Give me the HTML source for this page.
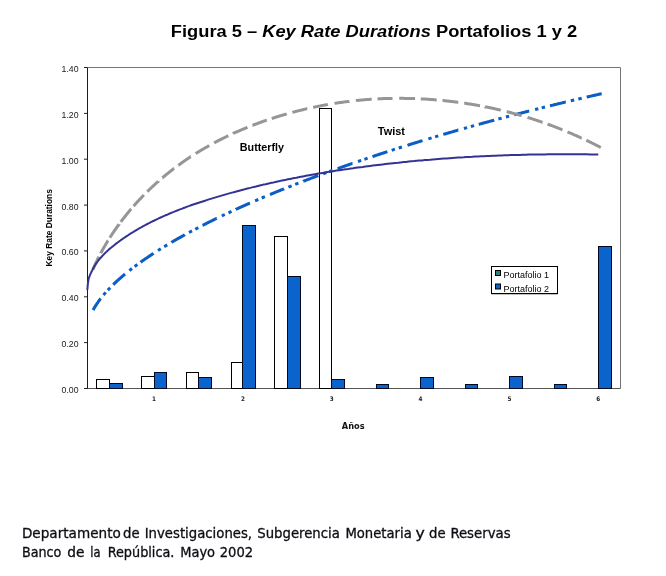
<!DOCTYPE html>
<html lang="es"><head><meta charset="utf-8"><title>Figura 5 – Key Rate Durations Portafolios 1 y 2</title>
<style>
html,body{margin:0;padding:0;background:#fff;}
body{width:666px;height:576px;overflow:hidden;position:relative;font-family:"Liberation Sans",Arial,sans-serif;}
svg{position:absolute;left:0;top:0;display:block;}
text{font-family:"Liberation Sans",Arial,sans-serif;fill:#000;}
.t{font-size:16px;font-weight:bold;}
.yl{font-size:9px;text-anchor:end;fill:#1a1a1a;}
.xl{font-family:"DejaVu Sans Condensed","DejaVu Sans",sans-serif;font-size:6.3px;font-weight:bold;text-anchor:middle;fill:#222;}
.ann{font-size:10.6px;font-weight:bold;}
.ax{font-size:8.4px;font-weight:bold;text-anchor:middle;}
.xt{font-family:"DejaVu Sans Condensed","DejaVu Sans",sans-serif;font-size:9px;font-weight:bold;fill:#111;}
.lg{font-size:9px;}
.ft{font-family:"DejaVu Sans Condensed","DejaVu Sans","Liberation Sans",sans-serif;font-size:14.7px;fill:#0d0d14;stroke:#0d0d14;stroke-width:0.3px;}
</style></head><body>
<svg width="666" height="576" viewBox="0 0 666 576">
<rect x="0" y="0" width="666" height="576" fill="#fff"/>
<text class="t" x="170.8" y="36.5" textLength="406.4" lengthAdjust="spacingAndGlyphs">Figura 5 – <tspan font-style="italic">Key Rate Durations</tspan> Portafolios 1 y 2</text>
<path d="M87.5,67.5 H620.5 V388.5" fill="none" stroke="#747474" stroke-width="1"/>
<path d="M84.5,388.5 H620.5" fill="none" stroke="#555" stroke-width="1"/>
<rect x="96.5" y="379.5" width="13.0" height="9.0" fill="#fff" stroke="#000" stroke-width="1"/>
<rect x="109.5" y="383.5" width="13.0" height="5.0" fill="#0b63cc" stroke="#000820" stroke-width="1"/>
<rect x="141.5" y="376.5" width="13.0" height="12.0" fill="#fff" stroke="#000" stroke-width="1"/>
<rect x="154.5" y="372.5" width="12.0" height="16.0" fill="#0b63cc" stroke="#000820" stroke-width="1"/>
<rect x="186.5" y="372.5" width="12.0" height="16.0" fill="#fff" stroke="#000" stroke-width="1"/>
<rect x="198.5" y="377.5" width="13.0" height="11.0" fill="#0b63cc" stroke="#000820" stroke-width="1"/>
<rect x="231.5" y="362.5" width="11.0" height="26.0" fill="#fff" stroke="#000" stroke-width="1"/>
<rect x="242.5" y="225.5" width="13.0" height="163.0" fill="#0b63cc" stroke="#000820" stroke-width="1"/>
<rect x="274.5" y="236.5" width="13.0" height="152.0" fill="#fff" stroke="#000" stroke-width="1"/>
<rect x="287.5" y="276.5" width="13.0" height="112.0" fill="#0b63cc" stroke="#000820" stroke-width="1"/>
<rect x="319.5" y="108.5" width="12.0" height="280.0" fill="#fff" stroke="#000" stroke-width="1"/>
<rect x="331.5" y="379.5" width="13.0" height="9.0" fill="#0b63cc" stroke="#000820" stroke-width="1"/>
<rect x="376.5" y="384.5" width="12.0" height="4.0" fill="#0b63cc" stroke="#000820" stroke-width="1"/>
<rect x="420.5" y="377.5" width="13.0" height="11.0" fill="#0b63cc" stroke="#000820" stroke-width="1"/>
<rect x="465.5" y="384.5" width="12.0" height="4.0" fill="#0b63cc" stroke="#000820" stroke-width="1"/>
<rect x="509.5" y="376.5" width="13.0" height="12.0" fill="#0b63cc" stroke="#000820" stroke-width="1"/>
<rect x="554.5" y="384.5" width="12.0" height="4.0" fill="#0b63cc" stroke="#000820" stroke-width="1"/>
<rect x="598.5" y="246.5" width="13.0" height="142.0" fill="#0b63cc" stroke="#000820" stroke-width="1"/>
<path d="M87.5,67.5 V388.5" fill="none" stroke="#1c1c1c" stroke-width="1"/>
<path d="M84.0,388.5 H87.5" stroke="#222" stroke-width="1"/>
<text class="yl" x="78.6" y="392.9" textLength="17" lengthAdjust="spacingAndGlyphs">0.00</text>
<path d="M84.0,342.6 H87.5" stroke="#222" stroke-width="1"/>
<text class="yl" x="78.6" y="347.0" textLength="17" lengthAdjust="spacingAndGlyphs">0.20</text>
<path d="M84.0,296.8 H87.5" stroke="#222" stroke-width="1"/>
<text class="yl" x="78.6" y="301.2" textLength="17" lengthAdjust="spacingAndGlyphs">0.40</text>
<path d="M84.0,250.9 H87.5" stroke="#222" stroke-width="1"/>
<text class="yl" x="78.6" y="255.3" textLength="17" lengthAdjust="spacingAndGlyphs">0.60</text>
<path d="M84.0,205.1 H87.5" stroke="#222" stroke-width="1"/>
<text class="yl" x="78.6" y="209.5" textLength="17" lengthAdjust="spacingAndGlyphs">0.80</text>
<path d="M84.0,159.2 H87.5" stroke="#222" stroke-width="1"/>
<text class="yl" x="78.6" y="163.6" textLength="17" lengthAdjust="spacingAndGlyphs">1.00</text>
<path d="M84.0,113.4 H87.5" stroke="#222" stroke-width="1"/>
<text class="yl" x="78.6" y="117.8" textLength="17" lengthAdjust="spacingAndGlyphs">1.20</text>
<path d="M84.0,67.5 H87.5" stroke="#222" stroke-width="1"/>
<text class="yl" x="78.6" y="71.9" textLength="17" lengthAdjust="spacingAndGlyphs">1.40</text>
<text class="xl" x="154.1" y="400.6">1</text>
<text class="xl" x="243.0" y="400.6">2</text>
<text class="xl" x="331.8" y="400.6">3</text>
<text class="xl" x="420.6" y="400.6">4</text>
<text class="xl" x="509.5" y="400.6">5</text>
<text class="xl" x="598.3" y="400.6">6</text>
<path d="M93.2,309.9 L93.3,309.8 L93.3,309.7 L93.4,309.5 L93.5,309.4 L93.5,309.3 L93.6,309.2 L93.7,309.0 L93.7,308.9 L93.8,308.8 L93.9,308.7 L94.0,308.5 L94.0,308.4 L94.1,308.3 L94.2,308.2 L94.2,308.0 L94.3,307.9 L94.4,307.8 L94.5,307.7 L94.5,307.5 L94.6,307.4 L94.7,307.3 L94.8,307.2 L94.8,307.0 L94.9,306.9 L95.0,306.8 L95.1,306.6 L95.1,306.5 L95.2,306.4 L95.3,306.3 L95.4,306.1 L95.5,306.0 L95.5,305.9 L95.6,305.8 L95.7,305.6 L95.8,305.5 L95.9,305.4 L95.9,305.3 L96.0,305.1 L96.1,305.0 L96.2,304.9 L96.3,304.8 L96.3,304.6 L96.4,304.5 L96.5,304.4 L96.6,304.2 L96.7,304.1 L96.8,304.0 L96.8,303.9 L96.9,303.7 L97.0,303.6 L97.1,303.5 L97.2,303.4 L97.3,303.2 L97.4,303.1 L97.4,303.0 L97.5,302.8 L97.6,302.7 L97.7,302.6 L97.8,302.5 L97.9,302.3 L98.0,302.2 L98.1,302.1 L98.1,302.0 L98.2,301.8 L98.3,301.7 L98.4,301.6 L98.5,301.4 L98.6,301.3 L98.7,301.2 L98.8,301.1 L98.9,300.9 L99.0,300.8 L99.1,300.7 L99.2,300.5 L99.3,300.4 L99.3,300.3 L99.4,300.2 L99.5,300.0 L99.6,299.9 L99.7,299.8 L99.8,299.6 L99.9,299.5 L100.0,299.4 L100.1,299.3 L100.2,299.1 L100.3,299.0 L100.4,298.9 L100.5,298.7 L100.6,298.6 L100.7,298.5 M113.2,284.6 L113.3,284.5 L113.5,284.4 L113.6,284.3 L113.7,284.1 L113.9,284.0 L114.0,283.8 L114.2,283.7 L114.3,283.6 L114.4,283.4 L114.6,283.3 L114.7,283.2 L114.9,283.0 L115.0,282.9 L115.2,282.8 L115.3,282.6 L115.4,282.5 L115.6,282.4 L115.7,282.2 L115.9,282.1 L116.0,282.0 L116.2,281.8 L116.3,281.7 L116.5,281.6 L116.6,281.4 L116.7,281.3 L116.9,281.2 L117.0,281.0 L117.2,280.9 L117.3,280.7 L117.5,280.6 L117.6,280.5 L117.8,280.3 L117.9,280.2 L118.1,280.1 L118.2,279.9 L118.4,279.8 L118.5,279.7 L118.7,279.5 L118.8,279.4 L119.0,279.3 L119.1,279.1 L119.3,279.0 L119.5,278.8 L119.6,278.7 L119.8,278.6 L119.9,278.4 L120.1,278.3 L120.2,278.2 L120.4,278.0 L120.5,277.9 L120.7,277.8 L120.8,277.6 L121.0,277.5 L121.2,277.3 L121.3,277.2 L121.5,277.1 L121.6,276.9 L121.8,276.8 L122.0,276.7 L122.1,276.5 L122.3,276.4 L122.4,276.3 L122.6,276.1 L122.8,276.0 L122.9,275.8 L123.1,275.7 L123.2,275.6 L123.4,275.4 L123.6,275.3 L123.7,275.2 L123.9,275.0 L124.1,274.9 L124.2,274.7 L124.4,274.6 L124.6,274.5 L124.7,274.3 L124.9,274.2 L125.0,274.1 M140.6,262.2 L140.7,262.1 L140.9,262.0 L141.1,261.8 L141.3,261.7 L141.5,261.5 L141.7,261.4 L141.9,261.3 L142.1,261.1 L142.3,261.0 L142.5,260.8 L142.7,260.7 L142.9,260.6 L143.1,260.4 L143.3,260.3 L143.5,260.1 L143.7,260.0 L143.9,259.9 L144.1,259.7 L144.3,259.6 L144.5,259.4 L144.7,259.3 L144.9,259.1 L145.1,259.0 L145.3,258.9 L145.5,258.7 L145.7,258.6 L145.9,258.4 L146.1,258.3 L146.4,258.2 L146.6,258.0 L146.8,257.9 L147.0,257.7 L147.2,257.6 L147.4,257.4 L147.6,257.3 L147.8,257.2 L148.0,257.0 L148.2,256.9 L148.5,256.7 L148.7,256.6 L148.9,256.5 L149.1,256.3 L149.3,256.2 L149.5,256.0 L149.7,255.9 L149.9,255.7 L150.2,255.6 L150.4,255.5 L150.6,255.3 L150.8,255.2 L151.0,255.0 L151.2,254.9 L151.4,254.7 L151.7,254.6 L151.9,254.5 L152.1,254.3 L152.3,254.2 L152.5,254.0 L152.7,253.9 L153.0,253.8 L153.2,253.6 L153.4,253.5 L153.5,253.4 M171.4,242.4 L171.6,242.2 L171.9,242.1 L172.1,242.0 L172.4,241.8 L172.6,241.7 L172.9,241.5 L173.1,241.4 L173.4,241.2 L173.6,241.1 L173.9,240.9 L174.1,240.8 L174.4,240.6 L174.6,240.5 L174.9,240.4 L175.1,240.2 L175.4,240.1 L175.7,239.9 L175.9,239.8 L176.2,239.6 L176.4,239.5 L176.7,239.3 L176.9,239.2 L177.2,239.0 L177.4,238.9 L177.7,238.8 L177.9,238.6 L178.2,238.5 L178.5,238.3 L178.7,238.2 L179.0,238.0 L179.2,237.9 L179.5,237.7 L179.8,237.6 L180.0,237.4 L180.3,237.3 L180.5,237.2 L180.8,237.0 L181.1,236.9 L181.3,236.7 L181.6,236.6 L181.8,236.4 L182.1,236.3 L182.4,236.1 L182.6,236.0 L182.9,235.8 L183.2,235.7 L183.4,235.5 L183.7,235.4 L184.0,235.3 L184.2,235.1 L184.5,235.0 L184.8,234.8 L184.9,234.7 M202.5,225.4 L202.5,225.4 L202.8,225.3 L203.1,225.1 L203.4,225.0 L203.7,224.8 L204.0,224.7 L204.3,224.5 L204.6,224.4 L204.9,224.2 L205.2,224.1 L205.5,223.9 L205.8,223.8 L206.1,223.6 L206.3,223.5 L206.6,223.3 L206.9,223.2 L207.2,223.0 L207.5,222.9 L207.8,222.7 L208.1,222.6 L208.4,222.4 L208.7,222.3 L209.0,222.1 L209.3,222.0 L209.6,221.8 L209.9,221.7 L210.2,221.6 L210.5,221.4 L210.8,221.3 L211.1,221.1 L211.4,221.0 L211.7,220.8 L212.0,220.7 L212.3,220.5 L212.6,220.4 L212.9,220.2 L213.2,220.1 L213.5,219.9 L213.8,219.8 L214.1,219.6 L214.4,219.5 L214.7,219.3 L215.0,219.2 L215.3,219.0 L215.6,218.9 L216.0,218.7 L216.3,218.6 L216.6,218.4 L216.7,218.4 M235.8,209.4 L235.9,209.3 L236.3,209.2 L236.6,209.0 L236.9,208.9 L237.3,208.7 L237.6,208.6 L237.9,208.4 L238.3,208.3 L238.6,208.1 L238.9,208.0 L239.3,207.8 L239.6,207.7 L239.9,207.5 L240.3,207.4 L240.6,207.2 L240.9,207.1 L241.3,206.9 L241.6,206.8 L241.9,206.6 L242.3,206.5 L242.6,206.3 L242.9,206.2 L243.3,206.0 L243.6,205.9 L243.9,205.7 L244.3,205.6 L244.6,205.4 L245.0,205.3 L245.3,205.1 L245.6,205.0 L246.0,204.8 L246.3,204.7 L246.7,204.5 L247.0,204.4 L247.3,204.2 L247.7,204.1 L248.0,203.9 L248.4,203.8 L248.7,203.6 L249.1,203.5 L249.4,203.3 L249.7,203.2 L250.0,203.1 M270.0,194.5 L270.3,194.4 L270.7,194.3 L271.0,194.1 L271.4,194.0 L271.8,193.8 L272.1,193.7 L272.5,193.5 L272.9,193.4 L273.2,193.2 L273.6,193.1 L274.0,192.9 L274.3,192.8 L274.7,192.6 L275.1,192.5 L275.4,192.3 L275.8,192.2 L276.2,192.0 L276.5,191.8 L276.9,191.7 L277.3,191.5 L277.7,191.4 L278.0,191.2 L278.4,191.1 L278.8,190.9 L279.1,190.8 L279.5,190.6 L279.9,190.5 L280.3,190.3 L280.6,190.2 L281.0,190.0 L281.4,189.9 L281.8,189.7 L282.1,189.6 L282.5,189.4 L282.9,189.3 L283.3,189.1 L283.7,189.0 L284.0,188.8 M303.3,181.3 L303.4,181.2 L303.8,181.1 L304.2,180.9 L304.6,180.8 L305.0,180.6 L305.4,180.5 L305.8,180.3 L306.2,180.2 L306.6,180.0 L307.0,179.9 L307.4,179.7 L307.8,179.6 L308.2,179.4 L308.6,179.3 L309.0,179.1 L309.4,179.0 L309.8,178.8 L310.2,178.7 L310.6,178.5 L311.0,178.3 L311.4,178.2 L311.8,178.0 L312.2,177.9 L312.6,177.7 L313.0,177.6 L313.4,177.4 L313.8,177.3 L314.2,177.1 L314.6,177.0 L315.1,176.8 L315.5,176.7 L315.9,176.5 L316.3,176.4 L316.7,176.2 L317.1,176.1 L317.5,175.9 L317.9,175.8 L318.3,175.6 M337.5,168.6 L337.6,168.6 L338.0,168.5 L338.4,168.3 L338.8,168.2 L339.3,168.0 L339.7,167.9 L340.1,167.7 L340.5,167.6 L341.0,167.4 L341.4,167.2 L341.8,167.1 L342.3,166.9 L342.7,166.8 L343.1,166.6 L343.6,166.5 L344.0,166.3 L344.4,166.2 L344.9,166.0 L345.3,165.9 L345.7,165.7 L346.2,165.6 L346.6,165.4 L347.0,165.3 L347.5,165.1 L347.9,165.0 L348.3,164.8 L348.8,164.7 L349.2,164.5 L349.6,164.4 L350.1,164.2 L350.5,164.1 L351.0,163.9 L351.4,163.7 L351.8,163.6 L352.3,163.4 L352.5,163.4 M372.5,156.6 L372.8,156.5 L373.3,156.3 L373.8,156.2 L374.2,156.0 L374.7,155.8 L375.1,155.7 L375.6,155.5 L376.0,155.4 L376.5,155.2 L377.0,155.1 L377.4,154.9 L377.9,154.8 L378.3,154.6 L378.8,154.5 L379.3,154.3 L379.7,154.2 L380.2,154.0 L380.6,153.9 L381.1,153.7 L381.6,153.6 L382.0,153.4 L382.5,153.3 L383.0,153.1 L383.4,153.0 L383.9,152.8 L384.3,152.7 L384.8,152.5 L385.3,152.4 L385.7,152.2 L386.2,152.1 L386.7,151.9 L387.1,151.8 L387.4,151.7 M407.5,145.3 L407.5,145.3 L408.0,145.1 L408.5,145.0 L409.0,144.8 L409.5,144.7 L410.0,144.5 L410.4,144.3 L410.9,144.2 L411.4,144.0 L411.9,143.9 L412.4,143.7 L412.9,143.6 L413.4,143.4 L413.9,143.3 L414.3,143.1 L414.8,143.0 L415.3,142.8 L415.8,142.7 L416.3,142.5 L416.8,142.4 L417.3,142.2 L417.8,142.1 L418.2,141.9 L418.7,141.8 L419.2,141.6 L419.7,141.5 L420.2,141.3 L420.7,141.2 L421.2,141.0 L421.7,140.9 L422.2,140.7 L422.5,140.6 M443.3,134.4 L443.7,134.3 L444.2,134.1 L444.8,134.0 L445.3,133.8 L445.8,133.7 L446.3,133.6 L446.8,133.4 L447.3,133.3 L447.8,133.1 L448.3,133.0 L448.8,132.8 L449.4,132.7 L449.9,132.5 L450.4,132.4 L450.9,132.2 L451.4,132.1 L451.9,131.9 L452.4,131.8 L453.0,131.6 L453.5,131.5 L454.0,131.3 L454.5,131.2 L455.0,131.0 L455.5,130.9 L456.1,130.7 L456.6,130.6 L457.1,130.4 L457.6,130.3 L458.1,130.1 L458.3,130.1 M478.7,124.3 L479.2,124.2 L479.7,124.1 L480.3,123.9 L480.8,123.8 L481.3,123.6 L481.9,123.5 L482.4,123.3 L482.9,123.2 L483.5,123.0 L484.0,122.9 L484.5,122.7 L485.1,122.6 L485.6,122.4 L486.2,122.3 L486.7,122.2 L487.2,122.0 L487.8,121.9 L488.3,121.7 L488.8,121.6 L489.4,121.4 L489.9,121.3 L490.5,121.1 L491.0,121.0 L491.6,120.8 L492.1,120.7 L492.6,120.5 L493.2,120.4 L493.7,120.3 L494.2,120.1 M514.2,114.8 L514.6,114.7 L515.2,114.6 L515.8,114.4 L516.3,114.3 L516.9,114.1 L517.4,114.0 L518.0,113.9 L518.5,113.7 L519.1,113.6 L519.7,113.4 L520.2,113.3 L520.8,113.1 L521.4,113.0 L521.9,112.8 L522.5,112.7 L523.0,112.6 L523.6,112.4 L524.2,112.3 L524.7,112.1 L525.3,112.0 L525.9,111.8 L526.4,111.7 L527.0,111.5 L527.6,111.4 L528.1,111.3 L528.7,111.1 L529.2,111.0 M550.0,105.8 L550.5,105.7 L551.0,105.5 L551.6,105.4 L552.2,105.3 L552.8,105.1 L553.4,105.0 L554.0,104.8 L554.5,104.7 L555.1,104.5 L555.7,104.4 L556.3,104.3 L556.9,104.1 L557.5,104.0 L558.0,103.8 L558.6,103.7 L559.2,103.6 L559.8,103.4 L560.4,103.3 L561.0,103.1 L561.6,103.0 L562.1,102.9 L562.7,102.7 L563.3,102.6 L563.9,102.4 L564.5,102.3 L565.1,102.1 L565.7,102.0 L565.8,102.0 M586.7,97.1 L587.1,97.0 L587.7,96.8 L588.3,96.7 L588.9,96.6 L589.5,96.4 L590.1,96.3 L590.8,96.1 L591.4,96.0 L592.0,95.9 L592.6,95.7 L593.2,95.6 L593.8,95.5 L594.4,95.3 L595.0,95.2 L595.6,95.0 L596.2,94.9 L596.8,94.8 L597.4,94.6 L598.0,94.5 L598.6,94.3 L599.3,94.2 L599.9,94.1 L600.5,93.9 L601.1,93.8 L601.7,93.7 M103.5,295.0 L105.7,292.4 M107.8,290.1 L110.2,287.7 M129.4,270.6 L132.0,268.5 M134.6,266.5 L137.4,264.5 M158.0,250.5 L160.8,248.7 M164.2,246.7 L167.2,244.9 M189.0,232.5 L192.0,230.9 M195.3,229.2 L198.3,227.6 M221.8,215.9 L224.8,214.5 M228.5,212.8 L231.5,211.3 M255.1,200.8 L258.3,199.5 M261.7,198.0 L264.9,196.7 M288.4,187.1 L291.6,185.8 M295.2,184.4 L298.4,183.2 M323.2,173.8 L326.4,172.6 M329.4,171.5 L332.6,170.4 M358.0,161.5 L361.2,160.4 M364.4,159.3 L367.6,158.2 M391.7,150.3 L394.9,149.2 M398.7,148.0 L401.9,147.0 M428.4,138.9 L431.6,137.9 M435.1,136.9 L438.3,135.9 M463.9,128.5 L467.1,127.6 M470.9,126.5 L474.1,125.6 M498.4,119.0 L501.6,118.1 M505.9,117.0 L509.1,116.2 M535.1,109.5 L538.3,108.7 M541.7,107.9 L545.0,107.0 M570.8,100.8 L574.2,100.0 M578.3,99.0 L581.7,98.2" fill="none" stroke="#0a5ec4" stroke-width="3"/>
<path d="M93.0,269.5 L93.0,269.5 L93.1,269.3 L93.2,269.1 L93.2,268.9 L93.3,268.8 L93.4,268.6 L93.5,268.4 L93.5,268.2 L93.6,268.0 L93.7,267.9 L93.8,267.7 L93.8,267.5 L93.9,267.3 L94.0,267.1 L94.1,267.0 L94.1,266.8 L94.2,266.6 L94.3,266.4 L94.4,266.2 L94.5,266.0 L94.5,265.9 L94.6,265.7 L94.7,265.5 L94.8,265.3 L94.9,265.1 L95.0,264.9 L95.0,264.7 L95.1,264.6 L95.2,264.4 L95.3,264.2 L95.4,264.0 L95.5,263.8 L95.5,263.6 L95.6,263.4 L95.7,263.2 L95.8,263.1 L95.9,262.9 L96.0,262.7 L96.1,262.5 L96.2,262.3 L96.3,262.1 L96.3,261.9 L96.4,261.7 L96.5,261.5 L96.6,261.3 L96.7,261.2 L96.8,261.0 L96.9,260.8 L97.0,260.6 L97.1,260.4 L97.2,260.2 L97.3,260.0 L97.4,259.8 L97.5,259.6 L97.6,259.4 L97.6,259.2 L97.7,259.0 L97.8,258.8 L97.9,258.6 L98.0,258.4 L98.1,258.2 L98.2,258.0 L98.3,257.8 L98.4,257.7 L98.5,257.5 L98.6,257.3 L98.7,257.1 L98.8,256.9 L98.9,256.7 M100.8,253.1 L100.8,253.0 L101.0,252.8 L101.1,252.6 L101.2,252.4 L101.3,252.2 L101.4,252.0 L101.5,251.8 L101.6,251.6 L101.7,251.4 L101.8,251.2 L102.0,251.0 L102.1,250.8 L102.2,250.6 L102.3,250.3 L102.4,250.1 L102.5,249.9 L102.7,249.7 L102.8,249.5 L102.9,249.3 L103.0,249.1 L103.1,248.9 L103.2,248.7 L103.4,248.5 L103.5,248.2 L103.6,248.0 L103.7,247.8 L103.8,247.6 L104.0,247.4 L104.1,247.2 L104.2,247.0 L104.3,246.8 L104.5,246.6 L104.6,246.3 L104.7,246.1 L104.8,245.9 L105.0,245.7 L105.1,245.5 L105.2,245.3 L105.3,245.1 L105.5,244.8 L105.6,244.6 L105.7,244.4 L105.8,244.2 L106.0,244.0 L106.1,243.8 L106.2,243.6 L106.4,243.3 L106.5,243.1 L106.6,242.9 L106.7,242.7 L106.9,242.5 L107.0,242.3 L107.1,242.0 L107.3,241.8 L107.4,241.6 L107.5,241.4 L107.7,241.2 L107.8,241.0 L107.9,240.7 L108.1,240.5 L108.1,240.5 M109.9,237.6 L110.0,237.4 L110.2,237.2 L110.3,237.0 L110.4,236.8 L110.6,236.5 L110.7,236.3 L110.9,236.1 L111.0,235.9 L111.2,235.7 L111.3,235.4 L111.5,235.2 L111.6,235.0 L111.7,234.8 L111.9,234.5 L112.0,234.3 L112.2,234.1 L112.3,233.9 L112.5,233.7 L112.6,233.4 L112.8,233.2 L112.9,233.0 L113.1,232.8 L113.2,232.5 L113.4,232.3 L113.5,232.1 L113.7,231.9 L113.8,231.6 L114.0,231.4 L114.2,231.2 L114.3,231.0 L114.5,230.7 L114.6,230.5 L114.8,230.3 L114.9,230.1 L115.1,229.8 L115.2,229.6 L115.4,229.4 L115.6,229.2 L115.7,228.9 L115.9,228.7 L116.0,228.5 L116.2,228.2 L116.3,228.0 L116.5,227.8 L116.7,227.6 L116.8,227.3 L117.0,227.1 L117.2,226.9 L117.3,226.7 L117.5,226.4 L117.6,226.2 L117.8,226.0 L118.0,225.7 L118.1,225.5 L118.3,225.3 L118.5,225.1 L118.6,224.8 L118.8,224.6 L119.0,224.4 L119.0,224.3 M120.8,221.9 L120.8,221.9 L121.0,221.6 L121.2,221.4 L121.3,221.2 L121.5,221.0 L121.7,220.7 L121.9,220.5 L122.0,220.3 L122.2,220.0 L122.4,219.8 L122.6,219.6 L122.7,219.3 L122.9,219.1 L123.1,218.9 L123.3,218.7 L123.4,218.4 L123.6,218.2 L123.8,218.0 L124.0,217.7 L124.2,217.5 L124.3,217.3 L124.5,217.1 L124.7,216.8 L124.9,216.6 L125.1,216.4 L125.2,216.1 L125.4,215.9 L125.6,215.7 L125.8,215.4 L126.0,215.2 L126.2,215.0 L126.4,214.8 L126.5,214.5 L126.7,214.3 L126.9,214.1 L127.1,213.8 L127.3,213.6 L127.5,213.4 L127.7,213.1 L127.8,212.9 L128.0,212.7 L128.2,212.4 L128.4,212.2 L128.6,212.0 L128.8,211.8 L129.0,211.5 L129.2,211.3 L129.4,211.1 L129.6,210.8 L129.8,210.6 L129.9,210.4 L130.1,210.1 L130.3,209.9 L130.5,209.7 L130.7,209.5 L130.9,209.2 L131.1,209.0 L131.2,208.9 M133.6,206.1 L133.7,206.0 L133.9,205.8 L134.1,205.5 L134.3,205.3 L134.5,205.1 L134.7,204.9 L134.9,204.6 L135.1,204.4 L135.3,204.2 L135.5,203.9 L135.7,203.7 L135.9,203.5 L136.2,203.2 L136.4,203.0 L136.6,202.8 L136.8,202.6 L137.0,202.3 L137.2,202.1 L137.4,201.9 L137.6,201.6 L137.8,201.4 L138.0,201.2 L138.2,201.0 L138.5,200.7 L138.7,200.5 L138.9,200.3 L139.1,200.0 L139.3,199.8 L139.5,199.6 L139.7,199.4 L139.9,199.1 L140.2,198.9 L140.4,198.7 L140.6,198.4 L140.8,198.2 L141.0,198.0 L141.2,197.8 L141.5,197.5 L141.7,197.3 L141.9,197.1 L142.1,196.8 L142.3,196.6 L142.6,196.4 L142.8,196.2 L143.0,195.9 L143.2,195.7 L143.4,195.5 L143.7,195.2 L143.9,195.0 L143.9,195.0 M147.3,191.6 L147.5,191.4 L147.7,191.2 L148.0,190.9 L148.2,190.7 L148.4,190.5 L148.7,190.3 L148.9,190.0 L149.1,189.8 L149.4,189.6 L149.6,189.4 L149.8,189.1 L150.1,188.9 L150.3,188.7 L150.5,188.5 L150.8,188.2 L151.0,188.0 L151.2,187.8 L151.5,187.6 L151.7,187.4 L151.9,187.1 L152.2,186.9 L152.4,186.7 L152.7,186.5 L152.9,186.2 L153.1,186.0 L153.4,185.8 L153.6,185.6 L153.9,185.3 L154.1,185.1 L154.3,184.9 L154.6,184.7 L154.8,184.5 L155.1,184.2 L155.3,184.0 L155.6,183.8 L155.8,183.6 L156.0,183.3 L156.3,183.1 L156.5,182.9 L156.8,182.7 L157.0,182.5 L157.3,182.2 L157.5,182.0 L157.8,181.8 L158.0,181.6 L158.3,181.4 L158.3,181.3 M162.5,177.7 L162.6,177.7 L162.8,177.4 L163.1,177.2 L163.3,177.0 L163.6,176.8 L163.9,176.6 L164.1,176.4 L164.4,176.1 L164.6,175.9 L164.9,175.7 L165.2,175.5 L165.4,175.3 L165.7,175.1 L165.9,174.8 L166.2,174.6 L166.5,174.4 L166.7,174.2 L167.0,174.0 L167.3,173.8 L167.5,173.6 L167.8,173.4 L168.1,173.1 L168.3,172.9 L168.6,172.7 L168.9,172.5 L169.1,172.3 L169.4,172.1 L169.7,171.9 L169.9,171.7 L170.2,171.4 L170.5,171.2 L170.7,171.0 L171.0,170.8 L171.3,170.6 L171.5,170.4 L171.8,170.2 L172.1,170.0 L172.4,169.8 L172.6,169.5 L172.9,169.3 L173.2,169.1 L173.5,168.9 L173.7,168.7 L174.0,168.5 L174.2,168.4 M178.3,165.3 L178.5,165.2 L178.7,165.0 L179.0,164.8 L179.3,164.6 L179.6,164.4 L179.9,164.2 L180.2,164.0 L180.5,163.8 L180.7,163.6 L181.0,163.3 L181.3,163.1 L181.6,162.9 L181.9,162.7 L182.2,162.5 L182.5,162.3 L182.7,162.1 L183.0,161.9 L183.3,161.7 L183.6,161.5 L183.9,161.3 L184.2,161.1 L184.5,160.9 L184.8,160.7 L185.1,160.5 L185.4,160.3 L185.7,160.1 L186.0,159.9 L186.2,159.7 L186.5,159.5 L186.8,159.3 L187.1,159.1 L187.4,158.9 L187.7,158.7 L188.0,158.5 L188.3,158.3 L188.6,158.1 L188.9,157.9 L189.2,157.7 L189.5,157.5 L189.8,157.3 L190.1,157.1 L190.4,156.9 L190.7,156.7 L190.8,156.7 M195.8,153.5 L195.9,153.4 L196.2,153.3 L196.5,153.1 L196.8,152.9 L197.1,152.7 L197.4,152.5 L197.7,152.3 L198.0,152.1 L198.4,151.9 L198.7,151.7 L199.0,151.5 L199.3,151.3 L199.6,151.2 L199.9,151.0 L200.2,150.8 L200.5,150.6 L200.9,150.4 L201.2,150.2 L201.5,150.0 L201.8,149.8 L202.1,149.7 L202.4,149.5 L202.8,149.3 L203.1,149.1 L203.4,148.9 L203.7,148.7 L204.0,148.5 L204.3,148.3 L204.7,148.2 L205.0,148.0 L205.3,147.8 L205.6,147.6 L206.0,147.4 L206.3,147.2 L206.6,147.1 L206.9,146.9 L207.2,146.7 L207.6,146.5 L207.9,146.3 L208.2,146.1 L208.5,146.0 L208.9,145.8 L209.2,145.6 L209.2,145.6 M214.2,142.9 L214.5,142.7 L214.8,142.5 L215.1,142.4 L215.5,142.2 L215.8,142.0 L216.1,141.8 L216.5,141.6 L216.8,141.5 L217.1,141.3 L217.5,141.1 L217.8,140.9 L218.2,140.8 L218.5,140.6 L218.8,140.4 L219.2,140.2 L219.5,140.1 L219.9,139.9 L220.2,139.7 L220.5,139.6 L220.9,139.4 L221.2,139.2 L221.6,139.0 L221.9,138.9 L222.2,138.7 L222.6,138.5 L222.9,138.3 L223.3,138.2 L223.6,138.0 L224.0,137.8 L224.3,137.7 L224.7,137.5 L225.0,137.3 L225.4,137.2 L225.7,137.0 L226.0,136.8 L226.4,136.7 L226.7,136.5 L227.1,136.3 L227.4,136.1 L227.8,136.0 L228.1,135.8 L228.3,135.7 M233.0,133.6 L233.1,133.5 L233.5,133.3 L233.8,133.2 L234.2,133.0 L234.5,132.9 L234.9,132.7 L235.2,132.5 L235.6,132.4 L236.0,132.2 L236.3,132.1 L236.7,131.9 L237.0,131.7 L237.4,131.6 L237.8,131.4 L238.1,131.3 L238.5,131.1 L238.9,130.9 L239.2,130.8 L239.6,130.6 L240.0,130.5 L240.3,130.3 L240.7,130.2 L241.0,130.0 L241.4,129.8 L241.8,129.7 L242.1,129.5 L242.5,129.4 L242.9,129.2 L243.3,129.1 L243.6,128.9 L244.0,128.8 L244.4,128.6 L244.7,128.4 L245.1,128.3 L245.5,128.1 L245.8,128.0 L246.2,127.8 L246.6,127.7 L247.0,127.5 L247.3,127.4 L247.5,127.3 M252.5,125.3 L252.6,125.3 L253.0,125.1 L253.4,125.0 L253.8,124.9 L254.1,124.7 L254.5,124.6 L254.9,124.4 L255.3,124.3 L255.7,124.1 L256.0,124.0 L256.4,123.8 L256.8,123.7 L257.2,123.6 L257.6,123.4 L258.0,123.3 L258.4,123.1 L258.7,123.0 L259.1,122.8 L259.5,122.7 L259.9,122.6 L260.3,122.4 L260.7,122.3 L261.1,122.1 L261.5,122.0 L261.9,121.9 L262.2,121.7 L262.6,121.6 L263.0,121.4 L263.4,121.3 L263.8,121.2 L264.2,121.0 L264.6,120.9 L265.0,120.8 L265.4,120.6 L265.8,120.5 L266.2,120.4 L266.6,120.2 L266.7,120.2 M271.7,118.5 L271.7,118.5 L272.1,118.4 L272.5,118.2 L273.0,118.1 L273.4,118.0 L273.8,117.8 L274.2,117.7 L274.6,117.6 L275.0,117.4 L275.4,117.3 L275.8,117.2 L276.2,117.1 L276.6,116.9 L277.0,116.8 L277.4,116.7 L277.8,116.6 L278.2,116.4 L278.6,116.3 L279.0,116.2 L279.4,116.1 L279.9,115.9 L280.3,115.8 L280.7,115.7 L281.1,115.6 L281.5,115.4 L281.9,115.3 L282.3,115.2 L282.7,115.1 L283.1,115.0 L283.6,114.8 L284.0,114.7 L284.4,114.6 L284.8,114.5 L285.2,114.4 L285.6,114.2 L286.1,114.1 L286.5,114.0 L286.7,113.9 M292.4,112.4 L292.8,112.3 L293.2,112.1 L293.6,112.0 L294.0,111.9 L294.5,111.8 L294.9,111.7 L295.3,111.6 L295.7,111.5 L296.2,111.4 L296.6,111.3 L297.0,111.1 L297.5,111.0 L297.9,110.9 L298.3,110.8 L298.7,110.7 L299.2,110.6 L299.6,110.5 L300.0,110.4 L300.5,110.3 L300.9,110.2 L301.3,110.1 L301.8,110.0 L302.2,109.9 L302.6,109.8 L303.1,109.7 L303.5,109.5 L303.9,109.4 L304.4,109.3 L304.8,109.2 L305.2,109.1 L305.7,109.0 L306.1,108.9 L306.5,108.8 L307.0,108.7 L307.3,108.7 M313.1,107.4 L313.1,107.4 L313.6,107.3 L314.0,107.2 L314.5,107.1 L314.9,107.0 L315.4,106.9 L315.8,106.8 L316.3,106.7 L316.7,106.6 L317.2,106.5 L317.6,106.4 L318.1,106.3 L318.5,106.3 L319.0,106.2 L319.4,106.1 L319.9,106.0 L320.3,105.9 L320.8,105.8 L321.2,105.7 L321.7,105.6 L322.1,105.6 L322.6,105.5 L323.0,105.4 L323.5,105.3 L323.9,105.2 L324.4,105.1 L324.8,105.0 L325.3,105.0 L325.7,104.9 L326.2,104.8 L326.7,104.7 L327.1,104.6 L327.6,104.6 L327.9,104.5 M334.5,103.4 L335.0,103.3 L335.4,103.3 L335.9,103.2 L336.3,103.1 L336.8,103.0 L337.3,103.0 L337.7,102.9 L338.2,102.8 L338.7,102.8 L339.2,102.7 L339.6,102.6 L340.1,102.6 L340.6,102.5 L341.0,102.4 L341.5,102.4 L342.0,102.3 L342.4,102.2 L342.9,102.2 L343.4,102.1 L343.9,102.0 L344.3,102.0 L344.8,101.9 L345.3,101.8 L345.8,101.8 L346.2,101.7 L346.7,101.7 L347.2,101.6 L347.7,101.5 L348.1,101.5 L348.6,101.4 L349.1,101.4 L349.4,101.3 M356.0,100.6 L356.3,100.5 L356.8,100.5 L357.3,100.4 L357.8,100.4 L358.2,100.3 L358.7,100.3 L359.2,100.2 L359.7,100.2 L360.2,100.2 L360.7,100.1 L361.2,100.1 L361.7,100.0 L362.1,100.0 L362.6,99.9 L363.1,99.9 L363.6,99.8 L364.1,99.8 L364.6,99.8 L365.1,99.7 L365.6,99.7 L366.1,99.6 L366.6,99.6 L367.1,99.6 L367.6,99.5 L368.1,99.5 L368.6,99.5 L369.0,99.4 L369.5,99.4 L370.0,99.3 L370.5,99.3 L371.0,99.3 L371.5,99.2 L371.7,99.2 M377.5,98.9 L377.5,98.9 L378.0,98.9 L378.5,98.8 L379.0,98.8 L379.6,98.8 L380.1,98.8 L380.6,98.7 L381.1,98.7 L381.6,98.7 L382.1,98.7 L382.6,98.7 L383.1,98.6 L383.6,98.6 L384.1,98.6 L384.6,98.6 L385.1,98.6 L385.6,98.5 L386.1,98.5 L386.7,98.5 L387.2,98.5 L387.7,98.5 L388.2,98.5 L388.7,98.5 L389.2,98.4 L389.7,98.4 L390.2,98.4 L390.8,98.4 L391.3,98.4 L391.8,98.4 L392.3,98.4 L392.5,98.4 M399.2,98.3 L399.6,98.3 L400.1,98.3 L400.6,98.3 L401.1,98.3 L401.7,98.3 L402.2,98.3 L402.7,98.3 L403.2,98.3 L403.8,98.3 L404.3,98.4 L404.8,98.4 L405.3,98.4 L405.9,98.4 L406.4,98.4 L406.9,98.4 L407.4,98.4 L408.0,98.4 L408.5,98.4 L409.0,98.4 L409.6,98.4 L410.1,98.5 L410.6,98.5 L411.2,98.5 L411.7,98.5 L412.2,98.5 L412.7,98.5 L413.3,98.6 L413.8,98.6 L414.3,98.6 L414.9,98.6 L415.0,98.6 M420.8,98.9 L421.3,98.9 L421.9,98.9 L422.4,98.9 L422.9,99.0 L423.5,99.0 L424.0,99.0 L424.6,99.1 L425.1,99.1 L425.7,99.1 L426.2,99.2 L426.7,99.2 L427.3,99.2 L427.8,99.3 L428.4,99.3 L428.9,99.3 L429.5,99.4 L430.0,99.4 L430.6,99.5 L431.1,99.5 L431.7,99.5 L432.2,99.6 L432.8,99.6 L433.3,99.7 L433.9,99.7 L434.4,99.8 L435.0,99.8 L435.5,99.8 L436.1,99.9 L436.6,99.9 L436.7,99.9 M442.5,100.5 L442.7,100.5 L443.3,100.6 L443.8,100.6 L444.4,100.7 L444.9,100.7 L445.5,100.8 L446.0,100.9 L446.6,100.9 L447.2,101.0 L447.7,101.0 L448.3,101.1 L448.9,101.2 L449.4,101.2 L450.0,101.3 L450.5,101.4 L451.1,101.4 L451.7,101.5 L452.2,101.6 L452.8,101.6 L453.4,101.7 L453.9,101.8 L454.5,101.8 L455.1,101.9 L455.6,102.0 L456.2,102.1 L456.8,102.1 L457.3,102.2 L457.9,102.3 L458.3,102.3 M464.2,103.2 L464.7,103.2 L465.3,103.3 L465.9,103.4 L466.5,103.5 L467.0,103.6 L467.6,103.7 L468.2,103.8 L468.8,103.9 L469.3,104.0 L469.9,104.0 L470.5,104.1 L471.1,104.2 L471.7,104.3 L472.2,104.4 L472.8,104.5 L473.4,104.6 L474.0,104.7 L474.6,104.8 L475.1,104.9 L475.7,105.0 L476.3,105.1 L476.9,105.2 L477.5,105.3 L478.0,105.4 L478.6,105.5 L479.2,105.6 L479.8,105.8 L480.0,105.8 M485.0,106.7 L485.1,106.8 L485.7,106.9 L486.3,107.0 L486.9,107.1 L487.4,107.2 L488.0,107.4 L488.6,107.5 L489.2,107.6 L489.8,107.7 L490.4,107.8 L491.0,108.0 L491.6,108.1 L492.2,108.2 L492.8,108.3 L493.4,108.5 L494.0,108.6 L494.6,108.7 L495.2,108.9 L495.8,109.0 L496.3,109.1 L496.9,109.3 L497.5,109.4 L498.1,109.5 L498.7,109.7 L499.3,109.8 L499.9,110.0 L500.5,110.1 L500.8,110.2 M506.7,111.6 L507.2,111.7 L507.8,111.9 L508.4,112.0 L509.0,112.2 L509.6,112.3 L510.2,112.5 L510.8,112.7 L511.4,112.8 L512.0,113.0 L512.6,113.1 L513.2,113.3 L513.8,113.5 L514.5,113.6 L515.1,113.8 L515.7,114.0 L516.3,114.1 L516.9,114.3 L517.5,114.5 L518.1,114.6 L518.7,114.8 L519.4,115.0 L520.0,115.2 L520.6,115.3 L521.2,115.5 L521.7,115.7 M527.5,117.4 L528.0,117.6 L528.6,117.7 L529.2,117.9 L529.8,118.1 L530.5,118.3 L531.1,118.5 L531.7,118.7 L532.3,118.9 L533.0,119.1 L533.6,119.3 L534.2,119.5 L534.8,119.7 L535.5,119.9 L536.1,120.1 L536.7,120.3 L537.3,120.5 L538.0,120.8 L538.6,121.0 L539.2,121.2 L539.8,121.4 L540.5,121.6 L541.1,121.8 L541.7,122.0 L542.4,122.3 L542.5,122.3 M547.5,124.1 L548.0,124.3 L548.7,124.5 L549.3,124.7 L549.9,125.0 L550.6,125.2 L551.2,125.4 L551.9,125.7 L552.5,125.9 L553.1,126.2 L553.8,126.4 L554.4,126.6 L555.0,126.9 L555.7,127.1 L556.3,127.4 L557.0,127.6 L557.6,127.9 L558.2,128.1 L558.9,128.4 L559.5,128.6 L560.2,128.9 L560.8,129.1 L561.4,129.4 L562.1,129.7 L562.5,129.8 M567.5,131.9 L567.9,132.1 L568.5,132.3 L569.2,132.6 L569.8,132.9 L570.5,133.2 L571.1,133.4 L571.8,133.7 L572.4,134.0 L573.1,134.3 L573.7,134.6 L574.4,134.8 L575.0,135.1 L575.7,135.4 L576.3,135.7 L577.0,136.0 L577.7,136.3 L578.3,136.6 L579.0,136.9 L579.6,137.2 L580.3,137.5 L580.9,137.8 L581.6,138.1 L581.7,138.1 M586.3,140.3 L586.8,140.5 L587.5,140.8 L588.2,141.2 L588.8,141.5 L589.5,141.8 L590.2,142.1 L590.8,142.4 L591.5,142.8 L592.1,143.1 L592.8,143.4 L593.5,143.7 L594.1,144.1 L594.8,144.4 L595.5,144.7 L596.1,145.1 L596.8,145.4 L597.5,145.7 L598.1,146.1 L598.8,146.4 L599.5,146.8 L600.1,147.1 L600.8,147.5" fill="none" stroke="#969696" stroke-width="3"/>
<path d="M87.3,290.0 L87.4,289.1 L87.5,288.0 L87.6,286.8 L87.7,285.6 L87.8,284.3 L88.0,283.1 L88.1,281.9 L88.3,280.8 L88.5,279.9 L88.6,279.1 L88.8,278.3 L89.0,277.6 L89.3,277.0 L89.5,276.4 L89.7,275.8 L90.0,275.2 L90.2,274.6 L90.5,273.9 L90.8,273.3 L91.1,272.7 L91.4,272.0 L91.7,271.3 L92.0,270.7 L92.4,270.0 L92.7,269.3 L93.1,268.6 L93.4,268.0 L93.8,267.3 L94.2,266.6 L94.6,265.9 L95.0,265.3 L95.4,264.6 L95.9,264.0 L96.3,263.3 L96.8,262.7 L97.2,262.0 L97.7,261.4 L98.2,260.7 L98.7,260.1 L99.2,259.5 L99.7,258.8 L100.3,258.2 L100.8,257.6 L101.4,257.0 L101.9,256.3 L102.5,255.7 L103.1,255.1 L103.7,254.5 L104.3,253.9 L104.9,253.3 L105.5,252.6 L106.2,252.0 L106.8,251.4 L107.5,250.8 L108.2,250.2 L108.8,249.6 L109.5,249.0 L110.2,248.4 L111.0,247.8 L111.7,247.2 L112.4,246.6 L113.2,246.0 L113.9,245.4 L114.7,244.7 L115.5,244.1 L116.3,243.5 L117.1,242.9 L117.9,242.3 L118.7,241.7 L119.5,241.1 L120.4,240.5 L121.2,239.9 L122.1,239.2 L123.0,238.6 L123.9,238.0 L124.8,237.4 L125.7,236.8 L126.6,236.2 L127.5,235.6 L128.5,235.0 L129.4,234.3 L130.4,233.7 L131.4,233.1 L132.4,232.5 L133.4,231.9 L134.4,231.3 L135.4,230.7 L136.4,230.1 L137.5,229.5 L138.5,228.8 L139.6,228.2 L140.7,227.6 L141.7,227.0 L142.8,226.4 L143.9,225.8 L145.1,225.2 L146.2,224.6 L147.3,224.0 L148.5,223.4 L149.6,222.8 L150.8,222.2 L152.0,221.6 L153.2,221.0 L154.4,220.5 L155.6,219.9 L156.8,219.3 L158.1,218.7 L159.3,218.1 L160.6,217.5 L161.8,217.0 L163.1,216.4 L164.4,215.8 L165.7,215.2 L167.0,214.7 L168.4,214.1 L169.7,213.5 L171.0,213.0 L172.4,212.4 L173.8,211.9 L175.1,211.3 L176.5,210.7 L177.9,210.2 L179.3,209.6 L180.8,209.1 L182.2,208.6 L183.6,208.0 L185.1,207.5 L186.6,206.9 L188.0,206.4 L189.5,205.9 L191.0,205.3 L192.5,204.8 L194.0,204.3 L195.6,203.8 L197.1,203.2 L198.7,202.7 L200.2,202.2 L201.8,201.7 L203.4,201.2 L205.0,200.7 L206.6,200.1 L208.2,199.6 L209.8,199.1 L211.5,198.6 L213.1,198.1 L214.8,197.6 L216.4,197.1 L218.1,196.6 L219.8,196.1 L221.5,195.6 L223.2,195.1 L225.0,194.6 L226.7,194.1 L228.4,193.6 L230.2,193.1 L232.0,192.6 L233.7,192.2 L235.5,191.7 L237.3,191.2 L239.2,190.7 L241.0,190.2 L242.8,189.7 L244.7,189.3 L246.5,188.8 L248.4,188.3 L250.3,187.9 L252.1,187.4 L254.0,186.9 L255.9,186.5 L257.9,186.0 L259.8,185.5 L261.7,185.1 L263.7,184.6 L265.7,184.2 L267.6,183.7 L269.6,183.3 L271.6,182.8 L273.6,182.4 L275.6,181.9 L277.7,181.5 L279.7,181.1 L281.8,180.6 L283.8,180.2 L285.9,179.8 L288.0,179.3 L290.1,178.9 L292.2,178.5 L294.3,178.1 L296.4,177.7 L298.6,177.2 L300.7,176.8 L302.9,176.4 L305.0,176.0 L307.2,175.6 L309.4,175.2 L311.6,174.8 L313.8,174.4 L316.1,174.0 L318.3,173.6 L320.5,173.3 L322.8,172.9 L325.1,172.5 L327.3,172.1 L329.6,171.7 L331.9,171.4 L334.2,171.0 L336.6,170.6 L338.9,170.3 L341.2,169.9 L343.6,169.6 L346.0,169.2 L348.3,168.9 L350.7,168.5 L353.1,168.2 L355.5,167.8 L357.9,167.5 L360.4,167.2 L362.8,166.9 L365.3,166.5 L367.7,166.2 L370.2,165.9 L372.7,165.6 L375.2,165.3 L377.7,165.0 L380.2,164.7 L382.7,164.4 L385.3,164.1 L387.8,163.8 L390.4,163.5 L393.0,163.2 L395.5,162.9 L398.1,162.7 L400.7,162.4 L403.4,162.1 L406.0,161.9 L408.6,161.6 L411.3,161.3 L413.9,161.1 L416.6,160.8 L419.3,160.6 L422.0,160.4 L424.7,160.1 L427.4,159.9 L430.1,159.7 L432.8,159.4 L435.6,159.2 L438.3,159.0 L441.1,158.8 L443.9,158.6 L446.7,158.4 L449.5,158.2 L452.3,158.0 L455.1,157.8 L457.9,157.6 L460.8,157.4 L463.6,157.3 L466.5,157.1 L469.4,156.9 L472.3,156.8 L475.2,156.6 L478.1,156.5 L481.0,156.3 L483.9,156.2 L486.9,156.0 L489.8,155.9 L492.8,155.8 L495.8,155.7 L498.7,155.5 L501.7,155.4 L504.7,155.3 L507.8,155.2 L510.8,155.1 L513.8,155.0 L516.9,154.9 L519.9,154.9 L523.0,154.8 L526.1,154.7 L529.2,154.6 L532.3,154.6 L535.4,154.5 L538.5,154.5 L541.7,154.4 L544.8,154.4 L548.0,154.3 L551.1,154.3 L554.3,154.3 L557.5,154.3 L560.7,154.3 L563.9,154.2 L567.1,154.2 L570.4,154.2 L573.6,154.3 L576.9,154.3 L580.1,154.3 L583.4,154.3 L586.7,154.3 L590.0,154.4 L593.3,154.4 L596.6,154.5 L598.3,154.5" fill="none" stroke="#333394" stroke-width="2"/>
<text class="ann" x="239.8" y="151" textLength="44.2" lengthAdjust="spacingAndGlyphs">Butterfly</text>
<text class="ann" x="377.8" y="135" textLength="27.2" lengthAdjust="spacingAndGlyphs">Twist</text>
<text class="ax" transform="translate(52.4,227.8) rotate(-90)">Key Rate Durations</text>
<text class="xt" x="341.8" y="428.8" textLength="22.8" lengthAdjust="spacingAndGlyphs">Años</text>
<rect x="491.5" y="266.5" width="66" height="27" fill="#fff" stroke="#000" stroke-width="1"/>
<path d="M491.5,293.8 H557.8" stroke="#000" stroke-width="0.8"/>
<rect x="495.5" y="270.5" width="5" height="5" fill="#2b827e" stroke="#000" stroke-width="1"/>
<rect x="495.5" y="284" width="5" height="5" fill="#0b63cc" stroke="#000" stroke-width="1"/>
<text class="lg" x="503.6" y="277.6">Portafolio 1</text>
<text class="lg" x="503.6" y="291.5">Portafolio 2</text>
<text class="ft" y="537.8"><tspan x="21.90" textLength="98.90" lengthAdjust="spacingAndGlyphs">Departamento</tspan> <tspan x="123.10" textLength="16.60" lengthAdjust="spacingAndGlyphs">de</tspan> <tspan x="144.70" textLength="107.40" lengthAdjust="spacingAndGlyphs">Investigaciones,</tspan> <tspan x="257.30" textLength="82.50" lengthAdjust="spacingAndGlyphs">Subgerencia</tspan> <tspan x="345.40" textLength="66.40" lengthAdjust="spacingAndGlyphs">Monetaria</tspan> <tspan x="415.40" textLength="9.30" lengthAdjust="spacingAndGlyphs">y</tspan> <tspan x="429.10" textLength="16.60" lengthAdjust="spacingAndGlyphs">de</tspan> <tspan x="450.40" textLength="60.20" lengthAdjust="spacingAndGlyphs">Reservas</tspan></text>
<text class="ft" y="556.5"><tspan x="21.90" textLength="39.40" lengthAdjust="spacingAndGlyphs">Banco</tspan> <tspan x="67.20" textLength="17.20" lengthAdjust="spacingAndGlyphs">de</tspan> <tspan x="90.30" textLength="10.30" lengthAdjust="spacingAndGlyphs">la</tspan> <tspan x="107.70" textLength="66.70" lengthAdjust="spacingAndGlyphs">República.</tspan> <tspan x="180.20" textLength="34.90" lengthAdjust="spacingAndGlyphs">Mayo</tspan> <tspan x="219.70" textLength="33.40" lengthAdjust="spacingAndGlyphs">2002</tspan></text>
</svg>
</body></html>
